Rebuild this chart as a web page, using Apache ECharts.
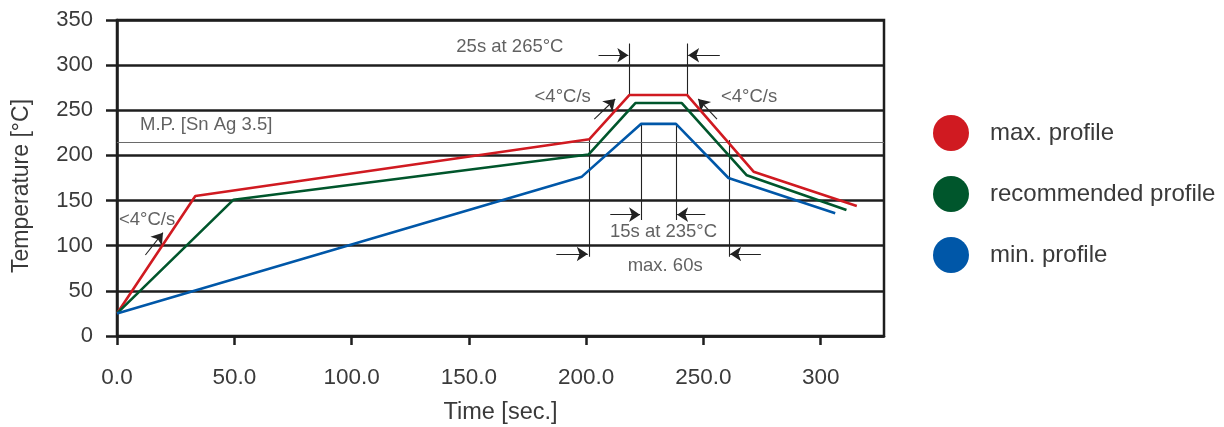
<!DOCTYPE html>
<html><head><meta charset="utf-8">
<script src="https://cdn.jsdelivr.net/npm/echarts@6/dist/echarts.min.js"></script>
<style>html,body{margin:0;padding:0;background:#fff}#c{width:1224px;height:427px}</style>
</head><body><div id="c"></div>
<script>
// Profile data: [time (s), temperature (°C)]
const maxProfile = [[0,25],[33.4,155],[201.4,218],[218.5,267],[243,267],[271.4,182],[315.4,144]];
const recProfile = [[0,25],[49.7,151],[201,201],[221,258],[240.8,258],[268.5,178],[311,139.5]];
const minProfile = [[0,25],[198.2,176.5],[223.5,235],[238.3,235],[260.7,175],[306.2,136]];
const seriesNames = ['max. profile','recommended profile','min. profile'];
const xTicks = [0,50,100,150,200,250,300];
const xTickLabels = ['0.0','50.0','100.0','150.0','200.0','250.0','300'];
const meltingPoint = 215;
// Annotation geometry in data units
const guideLines = [
  [[218.5,267],[218.5,324]], [[243,267],[243,324]],
  [[223.5,235],[223.5,128.5]], [[238.3,235],[238.3,128.5]],
  [[201.2,218],[201.2,87.8]], [[260.9,217],[260.9,87.8]]
];
const arrows = [
  [[205.3,311],[218,311]], [[257,311],[243.5,311]],
  [[210.3,134.4],[223,134.4]], [[250.8,134.4],[238.8,134.4]],
  [[187.3,90.8],[200.7,90.8]], [[274.5,90.8],[261.4,90.8]],
  [[203.5,240.3],[212.4,262.5]], [[255.8,240.3],[247.8,262.5]],
  [[12.1,89.7],[19.6,114.4]]
];
const notes = [
  [167.5,320,'25s at 265°C','center'],
  [233,114.8,'15s at 235°C','center'],
  [233.7,77.5,'max. 60s','center'],
  [190,264.7,'<4°C/s','center'],
  [269.5,264.7,'<4°C/s','center'],
  [12.8,129,'<4°C/s','center'],
  [9.8,233.7,'M.P. [Sn Ag 3.5]','left']
];
const colors = ['#d01a21','#00562c','#0057a8'];
const FONT = 'Liberation Sans';
const TXT = '#3a3a3a';
const GRID = '#1e1e1e';

const chart = echarts.init(document.getElementById('c'), null, {renderer:'canvas'});
const profiles = [maxProfile, recProfile, minProfile];
const series = profiles.map((d,i)=>({
  name: seriesNames[i], type:'line', data:d, symbol:'none', z:5,
  lineStyle:{color:colors[i], width:2.6}, itemStyle:{color:colors[i]},
  animation:false
}));
series.push({
  name:'mp', type:'line', data:[], symbol:'none', silent:true,
  markLine:{symbol:['none','none'], silent:true, label:{show:false},
    lineStyle:{color:'#6a6a6a', width:1.2, type:'solid'},
    data:[{yAxis:meltingPoint}], animation:false}
});
series.push({
  name:'guides', type:'lines', coordinateSystem:'cartesian2d', silent:true, z:3,
  symbol:['none','none'],
  lineStyle:{color:'#222', width:1.1, opacity:1},
  data: guideLines.map(c=>({coords:c})), animation:false
});
series.push({
  name:'arrows', type:'lines', coordinateSystem:'cartesian2d', silent:true, z:3,
  symbol:['none','arrow'], symbolSize:[9,11],
  lineStyle:{color:'#222', width:1.1, opacity:1},
  data: arrows.map(c=>({coords:c})), animation:false
});
series.push({
  name:'notes', type:'scatter', symbolSize:0, silent:true, z:6,
  data: notes.map(n=>({value:[n[0],n[1]], label:{show:true, position:'inside', formatter:n[2], align:n[3],
    color:TXT, fontFamily:FONT, fontSize:18.5}})),
  animation:false
});

chart.setOption({
  animation:false,
  backgroundColor:'#fff',
  color: colors,
  grid:{left:117, right:340, top:20, bottom:91, show:true, borderColor:GRID, borderWidth:2.5, backgroundColor:'transparent',
    containLabel:false, outerBoundsMode:'none'},
  legend:{
    data: seriesNames.map((n,i)=>({name:n, icon:'circle', itemStyle:{color:colors[i]}})),
    orient:'vertical', left:928, top:110, itemWidth:36, itemHeight:36, itemGap:25,
    textStyle:{color:TXT, fontFamily:FONT, fontSize:24, padding:[0,0,0,16]},
    selectedMode:false
  },
  xAxis:{
    type:'value', min:0, max:327, interval:50,
    name:'Time [sec.]', nameLocation:'middle', nameGap:65,
    nameTextStyle:{color:TXT, fontFamily:FONT, fontSize:23.5},
    axisLine:{show:true, lineStyle:{color:GRID, width:2.5}},
    axisTick:{show:true, length:9, lineStyle:{color:GRID, width:2.5}, customValues:xTicks},
    axisLabel:{color:TXT, fontFamily:FONT, fontSize:22.5, margin:30, customValues:xTicks,
      formatter:(v)=>{const k=xTicks.indexOf(v); return k>=0?xTickLabels[k]:'';}},
    splitLine:{show:false}
  },
  yAxis:{
    type:'value', min:0, max:350, interval:50,
    name:'Temperature [°C]', nameLocation:'middle', nameGap:83.5,
    nameTextStyle:{color:TXT, fontFamily:FONT, fontSize:23, padding:[0,16,0,0]},
    axisLine:{show:true, lineStyle:{color:GRID, width:2.5}},
    axisTick:{show:true, length:11, lineStyle:{color:GRID, width:2.5}},
    axisLabel:{color:TXT, fontFamily:FONT, fontSize:22, margin:24},
    splitLine:{show:true, lineStyle:{color:GRID, width:2.5}}
  },
  series: series
});
</script></body></html>
